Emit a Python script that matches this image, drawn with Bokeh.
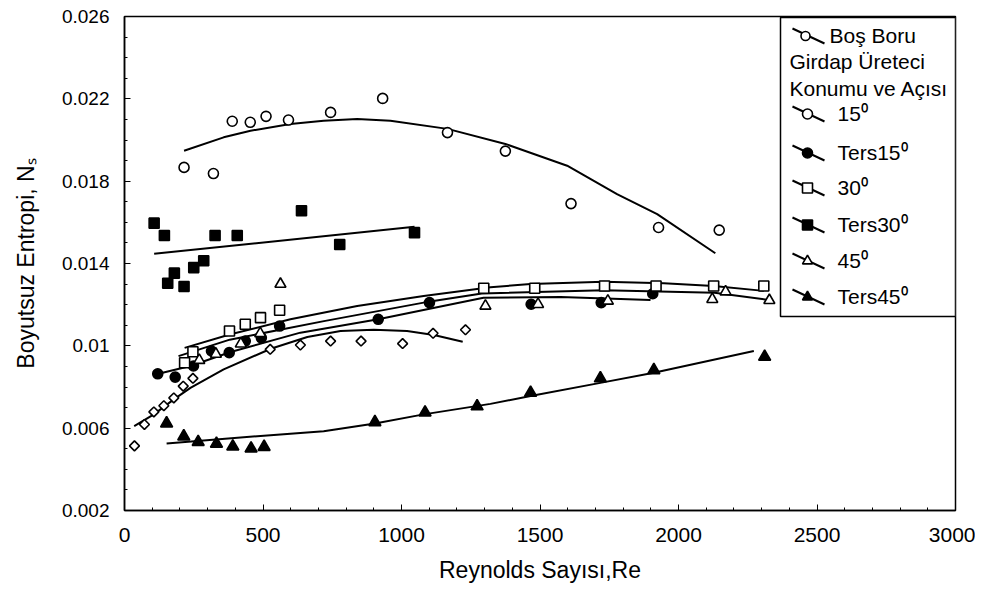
import math
from bokeh.plotting import figure
from bokeh.models import FixedTicker, Range1d, ColumnDataSource
from bokeh.core.properties import value
from bokeh.embed import file_html
from bokeh.resources import INLINE

FONT = "Liberation Sans"

# ---------------- data ----------------
# Boş Boru (empty pipe) - open diamonds
bos_re = [36, 72, 106, 142, 178, 212, 247, 526, 635, 744, 854, 1004, 1114, 1231]
bos_ns = [0.00514, 0.00618, 0.00679, 0.00709, 0.00747, 0.00804, 0.00842,
          0.00983, 0.01004, 0.01023, 0.01023, 0.01011, 0.01061, 0.01078]
bos_fit_re = [35, 106, 178, 238, 358, 528, 660, 780, 900, 1020, 1117, 1221]
bos_fit_ns = [0.0061, 0.00667, 0.0074, 0.00796, 0.00886, 0.00986, 0.01043,
              0.01072, 0.01078, 0.01072, 0.01053, 0.0102]

# 15 degree - open circles
a15_re = [215, 321, 389, 454, 511, 592, 744, 932, 1166, 1375, 1612, 1928, 2147]
a15_ns = [0.01867, 0.01837, 0.02091, 0.02086, 0.02115, 0.02097, 0.02134,
          0.02202, 0.02036, 0.01946, 0.01691, 0.01575, 0.01562]
a15_fit_re = [215, 358, 455, 599, 719, 840, 960, 1166, 1375, 1598, 1778, 1923, 2133]
a15_fit_ns = [0.01948, 0.02013, 0.02045, 0.02078, 0.02094, 0.02102, 0.02094,
              0.02054, 0.01981, 0.01875, 0.01737, 0.0164, 0.0145]

# Ters 15 degree - filled circles
t15_re = [120, 183, 249, 314, 378, 436, 494, 560, 916, 1101, 1468, 1721, 1907]
t15_ns = [0.00864, 0.00848, 0.00902, 0.00975, 0.00967, 0.01023, 0.01039,
          0.01096, 0.01129, 0.0121, 0.01202, 0.0121, 0.01253]
t15_fit_re = [119, 238, 383, 635, 916, 1296, 1574, 1899]
t15_fit_ns = [0.00863, 0.00902, 0.0097, 0.01064, 0.01129, 0.01234, 0.01237, 0.01223]

# 30 degree - open squares
a30_re = [217, 247, 379, 436, 491, 560, 1297, 1481, 1733, 1919, 2127, 2308]
a30_ns = [0.00918, 0.00971, 0.01072, 0.01105, 0.01137, 0.01173, 0.0128,
          0.0128, 0.01291, 0.01291, 0.01291, 0.01291]
a30_fit_re = [217, 383, 599, 840, 1080, 1321, 1466, 1730, 1947, 2127, 2308]
a30_fit_ns = [0.0099, 0.01056, 0.01129, 0.01194, 0.01242, 0.01285, 0.013,
              0.01311, 0.01304, 0.01291, 0.01267]

# Ters 30 degree - filled squares
t30_re = [107, 144, 156, 180, 215, 250, 286, 327, 407, 639, 777, 1047]
t30_ns = [0.01596, 0.01536, 0.01304, 0.01353, 0.01288, 0.0138, 0.01413,
          0.01536, 0.01536, 0.01656, 0.01492, 0.0155]
t30_fit_re = [107, 1047]
t30_fit_ns = [0.01447, 0.01578]

# 45 degree - open triangles
a45_re = [270, 330, 420, 490, 563, 1303, 1493, 1745, 2122, 2170, 2328]
a45_ns = [0.0093, 0.0096, 0.0101, 0.0106, 0.0130, 0.01194, 0.01202, 0.01218,
          0.01226, 0.01263, 0.01221]
a45_fit_re = [195, 380, 720, 1080, 1290, 1730, 2130, 2330]
a45_fit_ns = [0.0095, 0.0103, 0.0112, 0.0121, 0.01254, 0.0127, 0.01258, 0.01222]

# Ters 45 degree - filled triangles
t45_re = [152, 214, 266, 332, 391, 457, 504, 904, 1085, 1273, 1466, 1718, 1911, 2311]
t45_ns = [0.00623, 0.0056, 0.00533, 0.00524, 0.00511, 0.00501, 0.00509,
          0.00629, 0.00676, 0.00706, 0.00772, 0.00842, 0.00882, 0.00947]
t45_fit_re = [152, 479, 719, 904, 1080, 1321, 1466, 1718, 1911, 2272]
t45_fit_ns = [0.00526, 0.00561, 0.00585, 0.00623, 0.00667, 0.00718, 0.00756,
              0.0082, 0.00869, 0.00975]

x_ticks = [0, 500, 1000, 1500, 2000, 2500, 3000]
x_minor_ticks = [0, 100, 200, 300, 400, 500, 600, 700, 800, 900, 1000, 1100, 1200,
                 1300, 1400, 1500, 1600, 1700, 1800, 1900, 2000, 2100, 2200, 2300,
                 2400, 2500, 2600, 2700, 2800, 2900, 3000]
y_ticks = [0.002, 0.006, 0.010, 0.014, 0.018, 0.022, 0.026]
y_tick_labels = ["0.002", "0.006", "0.01", "0.014", "0.018", "0.022", "0.026"]
y_minor_ticks = [0.002, 0.003, 0.004, 0.005, 0.006, 0.007, 0.008, 0.009, 0.010,
                 0.011, 0.012, 0.013, 0.014, 0.015, 0.016, 0.017, 0.018, 0.019,
                 0.020, 0.021, 0.022, 0.023, 0.024, 0.025, 0.026]

legend_header = "Boş Boru"
legend_titles = ["Girdap Üreteci", "Konumu ve Açısı"]
legend_labels = ["15⁰", "Ters15⁰", "30⁰", "Ters30⁰", "45⁰", "Ters45⁰"]

# ---------------- figure ----------------
X0, X1, Y0, Y1 = 0, 3000, 0.002, 0.026
FW, FH = 831, 494
FL, FT = 124, 16   # frame left / top in page pixels

p = figure(frame_width=FW, frame_height=FH,
           x_range=Range1d(X0, X1), y_range=Range1d(Y0, Y1),
           output_backend="svg", toolbar_location=None,
           min_border_left=FL, min_border_right=20,
           min_border_top=FT, min_border_bottom=80,
           background_fill_color="white", border_fill_color="white")
p.xgrid.visible = False
p.ygrid.visible = False
p.outline_line_color = "black"
p.outline_line_width = 1.5

for ax in (p.xaxis[0], p.yaxis[0]):
    ax.axis_line_width = 1.5
    ax.axis_line_color = "black"
    ax.major_tick_line_color = "black"
    ax.minor_tick_line_color = "black"
    ax.major_tick_out = 0
    ax.minor_tick_out = 0
    ax.major_tick_in = 6
    ax.minor_tick_in = 3
    ax.major_label_text_font = FONT
    ax.major_label_text_color = "black"
    ax.axis_label_text_font = FONT
    ax.axis_label_text_font_style = "normal"
    ax.axis_label_text_color = "black"

p.xaxis.ticker = FixedTicker(ticks=x_ticks, minor_ticks=x_minor_ticks)
p.yaxis.ticker = FixedTicker(ticks=y_ticks, minor_ticks=y_minor_ticks)
p.yaxis.major_label_overrides = {t: l for t, l in zip(y_ticks, y_tick_labels)}
p.xaxis.major_label_text_font_size = "21px"
p.yaxis.major_label_text_font_size = "19px"
p.xaxis.major_label_standoff = 17
p.yaxis.major_label_standoff = 15
p.xaxis.axis_label = "Reynolds Sayısı,Re"
p.yaxis.axis_label = "Boyutsuz Entropi, Nₛ"
p.xaxis.axis_label_text_font_size = "23px"
p.yaxis.axis_label_text_font_size = "23px"
p.xaxis.axis_label_standoff = 12
p.yaxis.axis_label_standoff = 20

LW = 2
# fit curves
for fx, fy in [(bos_fit_re, bos_fit_ns), (a15_fit_re, a15_fit_ns), (t15_fit_re, t15_fit_ns),
               (a30_fit_re, a30_fit_ns), (t30_fit_re, t30_fit_ns), (a45_fit_re, a45_fit_ns),
               (t45_fit_re, t45_fit_ns)]:
    p.line(fx, fy, line_color="black", line_width=LW)

# (x, y, marker, fill, size, angle)
series = [
    (bos_re, bos_ns, "square", "white", 7, math.pi / 4),
    (a15_re, a15_ns, "circle", "white", 10, 0),
    (t15_re, t15_ns, "circle", "black", 10, 0),
    (a30_re, a30_ns, "square", "white", 10, 0),
    (t30_re, t30_ns, "square", "black", 10, 0),
    (a45_re, a45_ns, "triangle", "white", 11, 0),
    (t45_re, t45_ns, "triangle", "black", 12, 0),
]
for xs, ys, mk, fc, sz, ang in series:
    p.scatter(xs, ys, marker=mk, size=sz, angle=ang, fill_color=fc,
              line_color="black", line_width=1.6)

# ---------------- legend (drawn in the frame) ----------------
def sx(px):
    return X0 + (px - FL) * (X1 - X0) / FW

def sy(py):
    return Y1 - (py - FT) * (Y1 - Y0) / FH

p.quad(left=[sx(780)], right=[sx(955)], top=[sy(17)], bottom=[sy(316)],
       fill_color="white", line_color="black", line_width=1.5)

row_y = [113, 152, 187, 224, 260, 296]
row_mk = ["circle", "circle", "square", "square", "triangle", "triangle"]
row_fc = ["white", "black", "white", "black", "white", "black"]
head_y = 35

seg = ColumnDataSource(dict(
    x0=[sx(792)] * 7, x1=[sx(824)] * 7,
    y0=[sy(yy - 7) for yy in [head_y] + row_y],
    y1=[sy(yy + 8) for yy in [head_y] + row_y]))
p.segment("x0", "y0", "x1", "y1", source=seg, line_color="black", line_width=LW)

p.scatter([sx(805)], [sy(head_y + 0.5)], marker="circle", size=9,
          fill_color="white", line_color="black", line_width=1.6)
p.scatter([sx(807)] * 6, [sy(yy + 0.5) for yy in row_y], marker=row_mk, size=10,
          fill_color=row_fc, line_color="black", line_width=1.6)

p.text([sx(829)], [sy(head_y)], text=[legend_header], text_font=value(FONT),
       text_font_size="21px", text_baseline="middle", text_align="left", text_color="black")
p.text([sx(789)] * 2, [sy(61), sy(88)], text=legend_titles, text_font=value(FONT),
       text_font_size="21px", text_baseline="middle", text_align="left", text_color="black")
p.text([sx(837)] * 6, [sy(yy) for yy in row_y], text=legend_labels, text_font=value(FONT),
       text_font_size="21px", text_baseline="middle", text_align="left", text_color="black")

open("out.html", "w").write(file_html(p, INLINE))
